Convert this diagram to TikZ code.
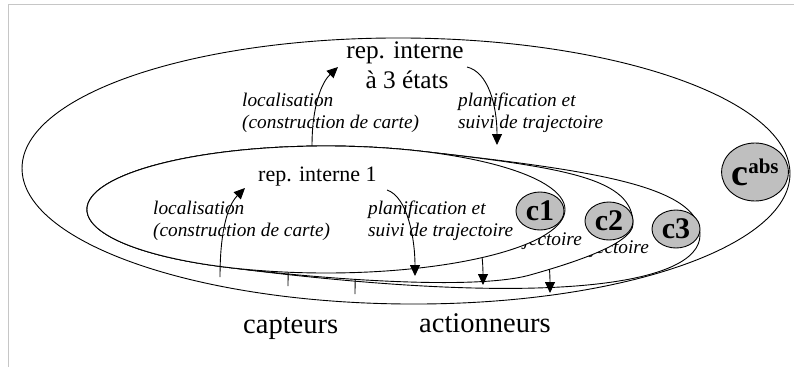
\documentclass[tikz,border=0pt]{standalone}
\usepackage{fontspec}
\setmainfont{Liberation Serif}
\usetikzlibrary{arrows.meta,shapes.geometric}
\begin{document}
\begin{tikzpicture}[x=1pt,y=-1pt,
  ring/.style={draw=black,line width=0.9pt,fill=white},
  arr/.style={draw=black,line width=0.9pt,-{Triangle[length=11pt,width=10pt]}},
  lab/.style={font=\fontsize{19.3}{22}\selectfont\itshape,anchor=base west,inner sep=0},
  big/.style={font=\fontsize{25.3}{30}\selectfont,anchor=base,inner sep=0},
  mid/.style={font=\fontsize{22}{26}\selectfont,anchor=base west,inner sep=0},
  huge/.style={font=\fontsize{28.5}{30}\selectfont,anchor=base west,inner sep=0},
  ctr/.style={draw=black,line width=0.9pt,fill=gray!50,ellipse,inner sep=0,
    minimum width=48pt,minimum height=38pt,font=\fontsize{30}{30}\selectfont\bfseries},
]
\useasboundingbox (0,0) rectangle (794,367);
\fill[white] (0,0) rectangle (794,367);
\draw[gray!45,line width=1pt] (794,4) -- (8,4) -- (8,367);

% outer ellipse
\draw[ring, rotate around={-0.45:(406,171)}] (406,171) ellipse [x radius=384, y radius=133];
\node[big] (t0a) at (405,58) {rep. interne};
\node[big] (t0b) at (407,88) {à 3 états};
\node[lab] (l0a) at (242,106) {localisation};
\node[lab] (l0b) at (242,128) {(construction de carte)};
\node[lab] (p0a) at (458,106) {planification et};
\node[lab] (p0b) at (458,128) {suivi de trajectoire};
\coordinate (a0s) at (312,146); \coordinate (a0e) at (338,67);
\draw[arr] (a0s) .. controls (312,105) and (322,82) .. (a0e);
\coordinate (b0s) at (467,67); \coordinate (b0e) at (497,145);
\draw[arr] (b0s) .. controls (488,72) and (497,105) .. (b0e);

% shared split point on the inner ellipse
\coordinate (pb) at (220.1,266.4);

% shape 3
\draw[ring] (pb) arc[start angle=116.3, end angle=293.2, x radius=239, y radius=63.5]
  .. controls (589,170) and (700,185) .. (700,235)
  .. controls (700,285) and (547,309) .. cycle;
\node[lab, anchor=base east] (p3) at (649,253) {jectoire};
\coordinate (a3s) at (355,294); \coordinate (a3e) at (380,205);
\draw[arr] (a3s) .. controls (355,247) and (363,222) .. (a3e);
\coordinate (b3s) at (522,207); \coordinate (b3e) at (550,293);
\draw[arr] (b3s) .. controls (543,214) and (550,257) .. (b3e);

% shape 2
\draw[ring] (pb) arc[start angle=116.3, end angle=293.2, x radius=239, y radius=63.5]
  .. controls (569,168) and (633,179) .. (633,224)
  .. controls (633,245) and (563.7,265.5) .. (530,275)
  .. controls (472.2,291.2) and (309.3,278) .. cycle;
\node[lab, anchor=base east] (p2) at (582,245) {jectoire};
\coordinate (a2s) at (288,286); \coordinate (a2e) at (313,197);
\draw[arr] (a2s) .. controls (288,239) and (296,214) .. (a2e);
\coordinate (b2s) at (455,199); \coordinate (b2e) at (483,285);
\draw[arr] (b2s) .. controls (476,206) and (483,249) .. (b2e);

% shape 1
\draw[ring] (326,209.5) ellipse [x radius=239, y radius=63.5];
\node[mid] (t1) at (258,181) {rep. interne 1};
\node[lab] (l1a) at (153,214) {localisation};
\node[lab] (l1b) at (153,236) {(construction de carte)};
\node[lab] (p1a) at (368,214) {planification et};
\node[lab] (p1b) at (368,236) {suivi de trajectoire};
\coordinate (a1s) at (220,277); \coordinate (a1e) at (245,188);
\draw[arr] (a1s) .. controls (220,230) and (228,205) .. (a1e);
\coordinate (b1s) at (387,190); \coordinate (b1e) at (415,276);
\draw[arr] (b1s) .. controls (408,197) and (415,240) .. (b1e);

% controllers
\node[ctr] (c1) at (540,211) {c1};
\node[ctr] (c2) at (609,221) {c2};
\node[ctr] (c3) at (676,229) {c3};
\node[ctr, minimum width=66pt, minimum height=58pt] (cabs) at (755,172)
  {{\fontsize{38}{38}\selectfont c}\raisebox{12pt}{\fontsize{21}{21}\selectfont abs}};

\node[huge] (cap) at (243,333) {capteurs};
\node[huge] (act) at (419,332) {actionneurs};
\end{tikzpicture}
\end{document}
